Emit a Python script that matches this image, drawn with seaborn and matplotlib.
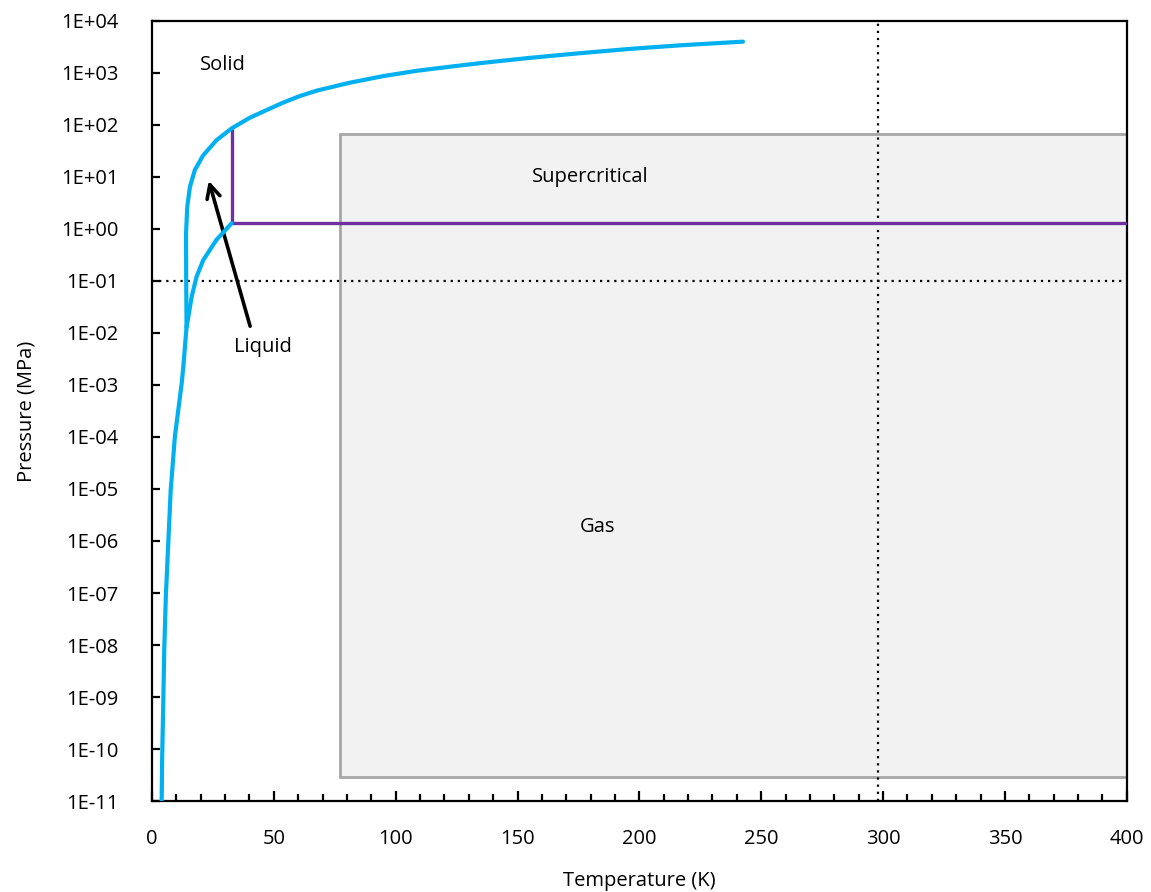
#----------- Phasendiagramm Wasserstoff -----------#
import numpy as np
import pandas as pd
import matplotlib
matplotlib.use('Agg')
import matplotlib.pyplot as plt
import matplotlib.ticker as mticker
from matplotlib.patches import Rectangle
import seaborn as sns

#Daten
subl_T = [4.0, 4.2, 4.65, 5.05, 5.7, 6.7, 7.7, 9.4, 12.2, 12.9, 14.2]
subl_P = [1e-11, 7e-11, 7.6e-10, 8e-9, 8.5e-8, 9e-7, 9.5e-6, 1e-4, 1.07e-3, 2.3e-3, 0.013]

vap_T = [14.2, 14.9, 16.3, 18.3, 21.0, 26.5, 32.7]
vap_P = [0.013, 0.02, 0.05, 0.12, 0.25, 0.62, 1.29]

melt_T = [14.2, 14.05, 14.0, 14.5, 15.6, 17.6, 21.0, 26.5, 32.7, 40.2, 47.1, 53.9, 60.7, 67.6,
          81.2, 94.9, 108.6, 122.3, 135.5, 155.0, 175.6, 196.0, 216.6, 242.5]
melt_P = [0.013, 0.12, 0.83, 2.7, 6.5, 13.6, 26, 51, 86, 138, 194, 270, 360, 457,
          650, 870, 1100, 1320, 1560, 1950, 2400, 2900, 3400, 4000]

crit_T = [32.7, 32.7, 400.0]
crit_P = [86, 1.29, 1.29]

gas_box_T = [77.0, 400.0]
gas_box_P = [2.9e-11, 67.0]

room_T = 298
atm_P = 0.1

y_ticks = [10.0 ** e for e in range(-11, 5)]
y_labels = ['1E-11', '1E-10', '1E-09', '1E-08', '1E-07', '1E-06', '1E-05', '1E-04',
            '1E-03', '1E-02', '1E-01', '1E+00', '1E+01', '1E+02', '1E+03', '1E+04']

df_subl = pd.DataFrame({'T': subl_T, 'P': subl_P})
df_vap = pd.DataFrame({'T': vap_T, 'P': vap_P})
df_melt = pd.DataFrame({'T': melt_T, 'P': melt_P})
df_crit = pd.DataFrame({'T': crit_T, 'P': crit_P})

#Stil
sns.set_style('ticks')
plt.rcParams['font.family'] = ['Open Sans', 'DejaVu Sans']
plt.rcParams['text.color'] = 'black'
plt.rcParams['axes.labelcolor'] = 'black'
plt.rcParams['xtick.color'] = 'black'
plt.rcParams['ytick.color'] = 'black'

blue = '#00B0F0'
purple = '#7030A0'
fs = 14.5

fig = plt.figure(figsize=(11.51, 8.92), dpi=100)
ax = fig.add_axes([0.132, 0.102, 0.847, 0.8745])
ax.set_yscale('log')
ax.set_xlim(0, 400)
ax.set_ylim(1e-11, 1e4)

#Gasbereich
ax.add_patch(Rectangle((gas_box_T[0], gas_box_P[0]), gas_box_T[1] - gas_box_T[0],
                       gas_box_P[1] - gas_box_P[0], facecolor='#F2F2F2',
                       edgecolor='#A6A6A6', lw=2.0, zorder=1))

#Hilfslinien
ax.axvline(room_T, color='black', ls=(0, (1, 2.2)), lw=1.6, zorder=2)
ax.axhline(atm_P, color='black', ls=(0, (1, 2.2)), lw=1.6, zorder=2)

#Kurven
sns.lineplot(data=df_crit, x='T', y='P', ax=ax, color=purple, lw=2.4, sort=False, estimator=None, zorder=3)
for d in [df_subl, df_vap, df_melt]:
    sns.lineplot(data=d, x='T', y='P', ax=ax, color=blue, lw=3.0, sort=False, estimator=None, zorder=4)

#Beschriftungen
ax.text(29, 1.4e3, 'Solid', fontsize=fs, ha='center', va='center')
ax.text(180, 10, 'Supercritical', fontsize=fs, ha='center', va='center')
ax.text(183, 1.9e-6, 'Gas', fontsize=fs, ha='center', va='center')
ax.text(45.5, 5.4e-3, 'Liquid', fontsize=fs, ha='center', va='center')
ax.annotate('', xy=(23, 9.5), xytext=(40.6, 0.012),
            arrowprops=dict(arrowstyle='->', color='black', lw=2.6, mutation_scale=24))

#Achsen
ax.set_xticks(np.arange(0, 401, 50))
ax.xaxis.set_minor_locator(mticker.MultipleLocator(10))
ax.yaxis.set_major_locator(mticker.FixedLocator(y_ticks))
ax.yaxis.set_minor_locator(mticker.NullLocator())
ax.set_yticklabels(y_labels)
ax.tick_params(axis='x', which='major', direction='in', length=7, width=1.6, labelsize=fs, pad=20)
ax.tick_params(axis='x', which='minor', direction='in', length=5, width=1.6)
ax.tick_params(axis='y', which='major', direction='in', length=6, width=1.6, labelsize=fs, pad=24)
for s in ax.spines.values():
    s.set_linewidth(1.6)
    s.set_color('black')
ax.set_xlabel('Temperature (K)', fontsize=fs, labelpad=16)
ax.set_ylabel('Pressure (MPa)', fontsize=fs, labelpad=18)

fig.savefig('out.png', dpi=100)
plt.close()
